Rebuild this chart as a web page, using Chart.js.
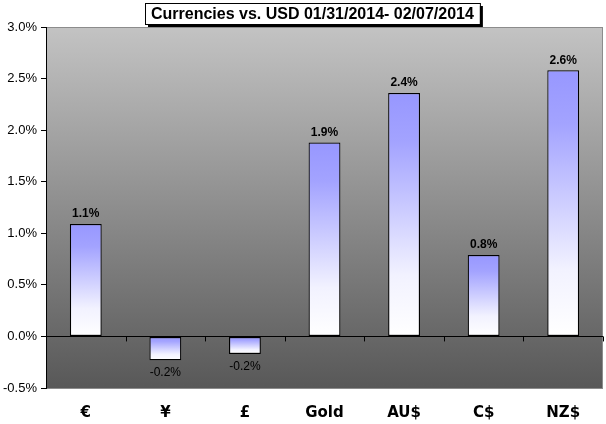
<!DOCTYPE html>
<html>
<head>
<meta charset="utf-8">
<script src="https://cdn.jsdelivr.net/npm/chart.js@4"></script>
<style>
  html, body { margin: 0; padding: 0; background: #fff; }
  #wrap { width: 606px; height: 424px; }
</style>
</head>
<body>
<div id="wrap"><canvas id="fxChart" width="606" height="424"></canvas></div>
<script>
// données
const categories = ['€', '¥', '£', 'Gold', 'AU$', 'C$', 'NZ$'];
const changes = [1.09, -0.23, -0.17, 1.88, 2.36, 0.79, 2.58];
const yTicks = [-0.5, 0, 0.5, 1.0, 1.5, 2.0, 2.5, 3.0];
const chartTitle = 'Currencies vs. USD 01/31/2014- 02/07/2014';

function barGradient(context) {
    const chart = context.chart;
    const y = chart.scales.y;
    if (!chart.chartArea || !y) return '#9999ff';
    const v = context.raw;
    const zero = y.getPixelForValue(0);
    const end = y.getPixelForValue(v);
    const top = Math.min(zero, end), bottom = Math.max(zero, end);
    const g = chart.ctx.createLinearGradient(0, top, 0, bottom);
    g.addColorStop(0, '#9797ff');
    g.addColorStop(0.2, '#a3a3ff');
    g.addColorStop(0.75, '#f2f2ff');
    g.addColorStop(1, '#ffffff');
    return g;
}

// fond dégradé de la zone du graphique
const plotBg = {
    id: 'plotBg',
    beforeDraw(chart) {
        const { ctx, chartArea: a } = chart;
        ctx.save();
        const g = ctx.createLinearGradient(0, a.top, 0, a.bottom);
        g.addColorStop(0, '#c3c3c3');
        g.addColorStop(1, '#585858');
        ctx.fillStyle = g;
        ctx.fillRect(a.left, a.top, a.right - a.left, a.bottom - a.top);
        ctx.strokeStyle = '#8c8c8c';
        ctx.lineWidth = 1;
        ctx.strokeRect(a.left + 0.5, a.top + 0.5, a.right - a.left - 1, a.bottom - a.top);
        ctx.restore();
    },
    afterDraw(chart) {
        // titre encadré avec ombre
        const ctx = chart.ctx;
        ctx.save();
        ctx.font = 'bold 16px "Liberation Sans", Arial, sans-serif';
        const w = ctx.measureText(chartTitle).width;
        const bw = w + 12, bh = 21;
        const bx = Math.round(312 - bw / 2), by = 3;
        ctx.fillStyle = '#000';
        ctx.fillRect(bx + 3, by + 3, bw, bh);
        ctx.fillStyle = '#fff';
        ctx.fillRect(bx, by, bw, bh);
        ctx.strokeStyle = '#000';
        ctx.lineWidth = 1;
        ctx.strokeRect(bx + 0.5, by + 0.5, bw, bh);
        ctx.fillStyle = '#000';
        ctx.textAlign = 'center';
        ctx.textBaseline = 'middle';
        ctx.fillText(chartTitle, bx + bw / 2, by + bh / 2 + 1);
        ctx.restore();
    }
};

// étiquettes de valeur + petites graduations sous la ligne zéro
const valueLabels = {
    id: 'valueLabels',
    afterDatasetsDraw(chart) {
        const { ctx } = chart;
        const x = chart.scales.x, y = chart.scales.y;
        const zero = y.getPixelForValue(0);
        ctx.save();
        ctx.strokeStyle = '#000';
        ctx.lineWidth = 1;
        for (let i = 1; i <= categories.length; i++) {
            const bx = i < categories.length
                ? (x.getPixelForValue(i - 1) + x.getPixelForValue(i)) / 2
                : chart.chartArea.right;
            ctx.beginPath();
            ctx.moveTo(Math.round(bx) + 0.5, zero);
            ctx.lineTo(Math.round(bx) + 0.5, zero + 5);
            ctx.stroke();
        }
        const meta = chart.getDatasetMeta(0);
        ctx.fillStyle = '#000';
        ctx.textAlign = 'center';
        meta.data.forEach((bar, i) => {
            const v = changes[i];
            const txt = v.toFixed(1) + '%';
            if (v >= 0) {
                ctx.font = 'bold 12px "Liberation Sans", Arial, sans-serif';
                ctx.textBaseline = 'bottom';
                ctx.fillText(txt, bar.x, bar.y - 4);
            } else {
                ctx.font = '12px "Liberation Sans", Arial, sans-serif';
                ctx.textBaseline = 'top';
                ctx.fillText(txt, bar.x, bar.y + 7);
            }
        });
        ctx.restore();
    }
};

new Chart(document.getElementById('fxChart'), {
    type: 'bar',
    data: {
        labels: categories,
        datasets: [{
            data: changes,
            backgroundColor: barGradient,
            borderColor: '#000',
            borderWidth: 1.2,
            borderSkipped: false,
            categoryPercentage: 1,
            barPercentage: 0.4
        }]
    },
    options: {
        responsive: false,
        animation: false,
        devicePixelRatio: 1,
        layout: { padding: { top: 27, right: 3, left: 0, bottom: 0 } },
        plugins: {
            legend: { display: false },
            tooltip: { enabled: false },
            title: { display: false }
        },
        scales: {
            x: {
                grid: { display: false },
                border: { display: false },
                afterFit: s => { s.height = 36; },
                ticks: {
                    color: '#000',
                    padding: 8,
                    font: { family: '"DejaVu Sans", Verdana, sans-serif', size: 15, weight: 'bold' }
                }
            },
            y: {
                min: -0.5,
                max: 3,
                afterFit: s => { s.width = 46; },
                afterBuildTicks: s => { s.ticks = yTicks.map(v => ({ value: v })); },
                border: { display: true, color: '#000', width: 1 },
                grid: {
                    color: c => (c.tick && c.tick.value === 0 ? '#000' : 'rgba(0,0,0,0)'),
                    tickColor: '#000',
                    tickLength: 5,
                    lineWidth: 1
                },
                ticks: {
                    color: '#000',
                    padding: 4,
                    font: { family: '"Liberation Sans", Arial, sans-serif', size: 13 },
                    callback: v => v.toFixed(1) + '%'
                }
            }
        }
    },
    plugins: [plotBg, valueLabels]
});
</script>
</body>
</html>
